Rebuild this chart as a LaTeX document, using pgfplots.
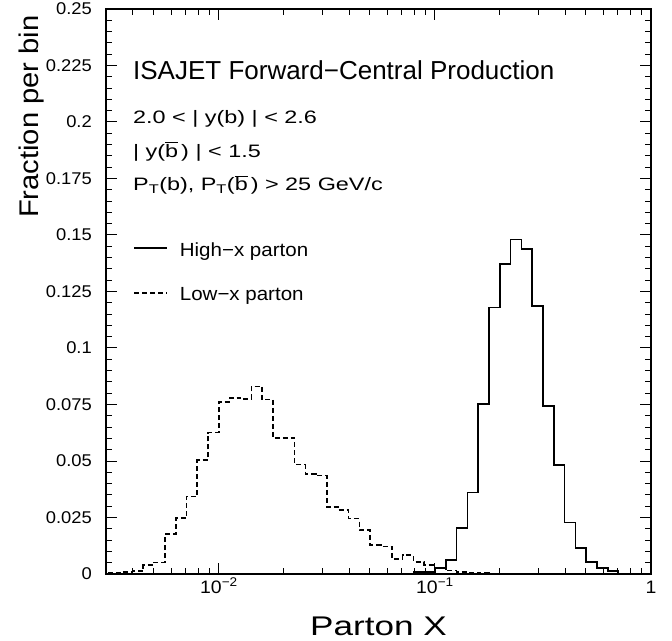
\documentclass[border=0pt]{standalone}
\usepackage{fontspec}
\setmainfont{Liberation Sans}[FakeStretch=1.08]
\newfontfamily\widefont{Liberation Sans}[FakeStretch=1.3]
\newfontfamily\titlefont{Liberation Sans}
\usepackage{pgfplots}
\usepackage{pgfplotstable}
\pgfplotsset{compat=1.18}

\pgfplotstableread{
x y
0.0028184 0.0003
0.0031623 0.0004
0.0035481 0.0009
0.0039811 0.0012
0.0044668 0.0039
0.0050119 0.0051
0.0056234 0.0176
0.0063096 0.0247
0.0070795 0.0343
0.0079433 0.0505
0.0089125 0.0626
0.0100000 0.0762
0.0112200 0.0780
0.0125890 0.0774
0.0141250 0.0830
0.0158490 0.0772
0.0177830 0.0602
0.0199530 0.0602
0.0223870 0.0484
0.0251190 0.0444
0.0281840 0.0436
0.0316230 0.0295
0.0354810 0.0282
0.0398110 0.0245
0.0446680 0.0194
0.0501190 0.0129
0.0562340 0.0122
0.0630960 0.0067
0.0707950 0.0083
0.0794330 0.0053
0.0891250 0.0040
0.1000000 0.0024
0.1122000 0.0015
0.1258900 0.0010
0.1412500 0.0006
0.1584900 0.0003
0.1778300 0.0002
0.1995300 0
}\lowx

\pgfplotstableread{
x y
0.0794330 0
0.0794330 0.0008
0.0891250 0.0010
0.1000000 0.0027
0.1122000 0.0062
0.1258900 0.0202
0.1412500 0.0361
0.1584900 0.0751
0.1778300 0.1179
0.1995300 0.1373
0.2238700 0.1480
0.2511900 0.1437
0.2818400 0.1187
0.3162300 0.0744
0.3548100 0.0483
0.3981100 0.0228
0.4466800 0.0114
0.5011900 0.0053
0.5623400 0.0026
0.6309600 0.0012
0.7079500 0
}\highx

\begin{document}
\begin{tikzpicture}
\path[use as bounding box] (-106bp,-67bp) rectangle (566bp,574bp);
\begin{axis}[
  scale only axis, width=545bp, height=565bp,
  xmode=log, xmin=0.003, xmax=1, ymin=0, ymax=0.25,
  xtick={0.01,0.1,1},
  xticklabels={10\textsuperscript{−2},10\textsuperscript{−1},1},
  minor xtick={0.003,0.004,0.005,0.006,0.007,0.008,0.009,0.02,0.03,0.04,0.05,0.06,0.07,0.08,0.09,0.2,0.3,0.4,0.5,0.6,0.7,0.8,0.9},
  ytick={0,0.025,0.05,0.075,0.1,0.125,0.15,0.175,0.2,0.225,0.25},
  yticklabels={0,0.025,0.05,0.075,0.1,0.125,0.15,0.175,0.2,0.225,0.25},
  minor y tick num=4,
  tick align=inside,
  major tick length=11bp, minor tick length=6bp,
  axis line style={line width=2bp},
  every tick/.style={line width=1bp, black},
  yticklabel style={anchor=east, inner sep=0pt, xshift=-14bp, font=\fontsize{17bp}{17bp}\selectfont},
  xticklabel style={anchor=base, inner sep=0pt, yshift=-19bp, font=\fontsize{18bp}{18bp}\selectfont},
  every axis y label/.style={at={(axis description cs:-0.123,0.995)}, rotate=90, anchor=base east, font=\fontsize{27bp}{27bp}\selectfont},
  every axis x label/.style={at={(axis description cs:0.5,-0.108)}, anchor=base, font=\widefont\fontsize{27bp}{27bp}\selectfont},
  ylabel={Fraction per bin},
  xlabel={Parton X},
  legend style={at={(axis description cs:0.0495,0.5912)}, anchor=north west, draw=none, fill=none, inner sep=0pt,
    font=\fontsize{19bp}{19bp}\selectfont, cells={anchor=west},
    nodes={inner sep=0pt, text height=16bp, text depth=0bp},
    row sep=28.5bp, column sep=12bp},
  legend image code/.code={\draw[#1] (0bp,0bp) -- (33bp,0bp);},
]
\addplot[const plot, black, line width=1.7bp] table {\highx};
\addlegendentry{High−x parton}
\addplot[const plot, black, line width=1.7bp, dash pattern=on 5bp off 3bp] table {\lowx};
\addlegendentry{Low−x parton}

\node[anchor=base west, inner sep=0pt, font=\titlefont\fontsize{26bp}{26bp}\selectfont] at (axis description cs:0.0495,0.876) {ISAJET Forward−Central Production};
\node[anchor=base west, inner sep=0pt, font=\widefont\fontsize{18bp}{18bp}\selectfont] at (axis description cs:0.0495,0.7982) {2.0 < | y(b) | < 2.6};
\node[anchor=base west, inner sep=0pt, font=\widefont\fontsize{18bp}{18bp}\selectfont] at (axis description cs:0.0495,0.738) {| y($\overline{\mbox{b}}$\,) | < 1.5};
\node[anchor=base west, inner sep=0pt, font=\widefont\fontsize{18bp}{18bp}\selectfont] at (axis description cs:0.0495,0.678) {P\textsubscript{T}(b), P\textsubscript{T}($\overline{\mbox{b}}$\,) > 25 GeV/c};
\end{axis}
\end{tikzpicture}
\end{document}
